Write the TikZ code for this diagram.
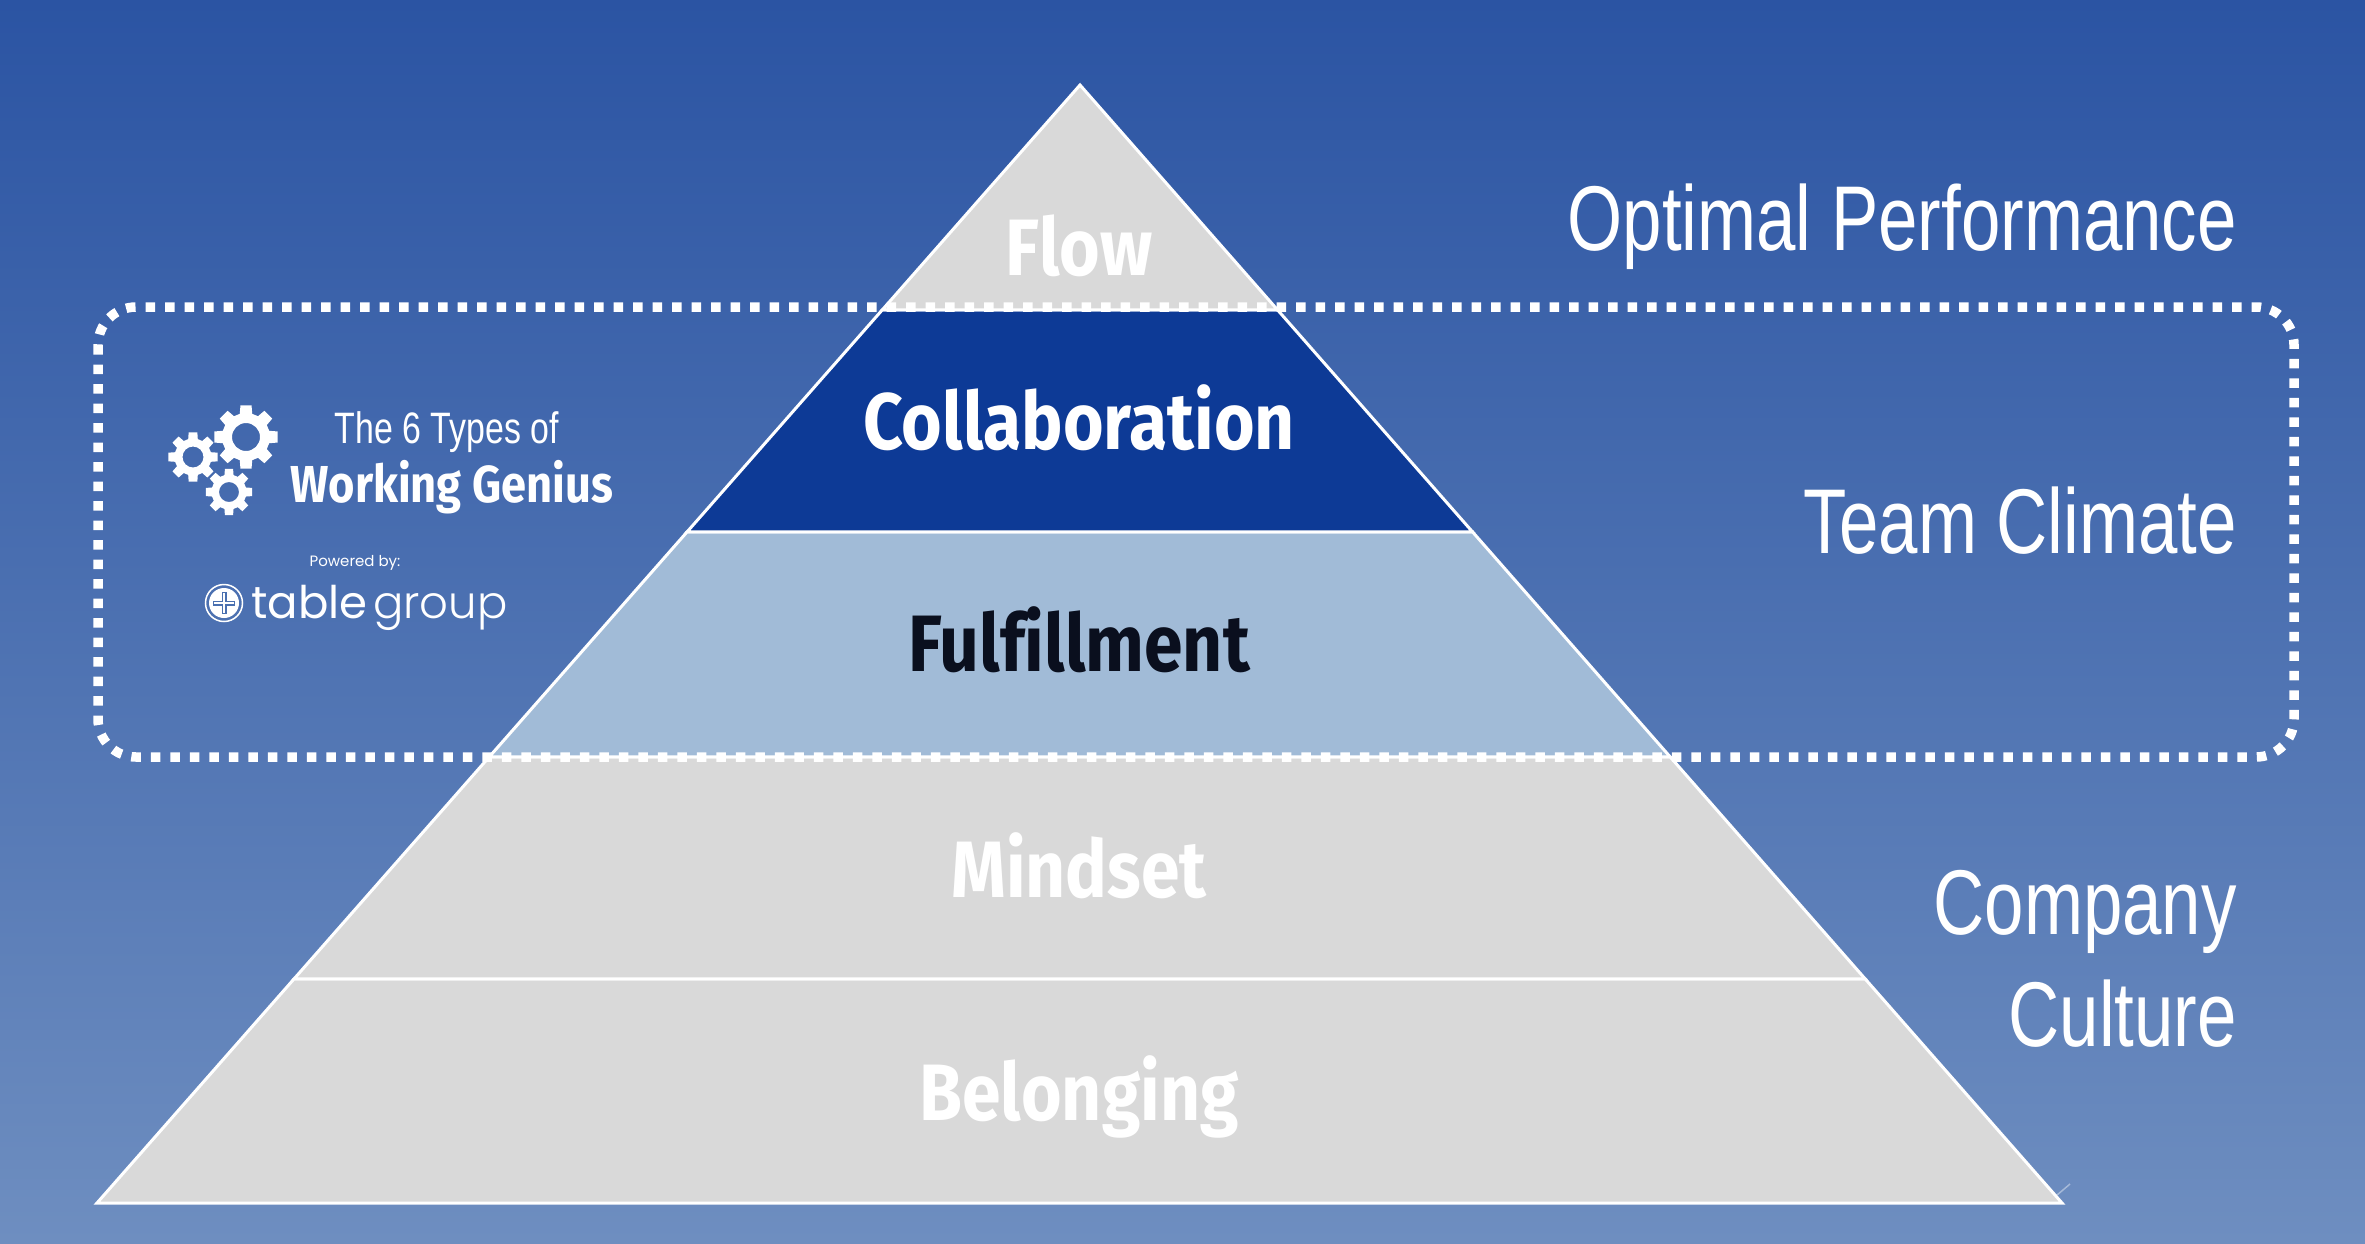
\documentclass[tikz,border=0pt]{standalone}
\usepackage{fontspec}
\usetikzlibrary{calc,positioning}
\setmainfont{Liberation Sans}
\newfontfamily\headfont[FakeStretch=0.87,Ligatures=NoCommon]{Fira Sans}
\newfontfamily\sidefont[FakeStretch=0.77]{Liberation Sans}
\newfontfamily\logofont{Poppins}
\newfontfamily\logolight{Poppins Light}
\definecolor{SkyTop}{HTML}{2B54A3}
\definecolor{SkyBottom}{HTML}{6E8EC0}
\definecolor{LogoBlue}{HTML}{4A70B0}
\definecolor{LayerGray}{HTML}{D9D9D9}
\definecolor{LayerNavy}{HTML}{0D3A96}
\definecolor{LayerPale}{HTML}{A1BBD7}
\definecolor{InkDark}{HTML}{0A0F1E}
\tikzset{
  layer/.style={draw=white,line width=3pt,line join=miter},
  layertext/.style={anchor=base,inner sep=0pt,white,font=\headfont\bfseries\fontsize{80}{90}\selectfont},
  sidetext/.style={anchor=base east,inner sep=0pt,white,font=\sidefont\fontsize{92}{100}\selectfont}
}
\newcommand{\gearicon}[4]{%
  \begin{scope}[shift={(#1)}]
    \fill[white,even odd rule] (-10:#2)
      \foreach \a in {0,45,...,315} {
        -- ({\a-10}:#2) -- ({\a+10}:#2) -- ({\a+15}:#3) -- ({\a+30}:#3)
      } -- cycle
      (0,0) circle[radius=#4];
  \end{scope}
}

\begin{document}
\begin{tikzpicture}[x=1pt,y=-1pt]
    \shade[top color=SkyTop,bottom color=SkyBottom] (0,0) rectangle (2365,1243);

    \coordinate (apex) at (1080,85);
    \coordinate (baseL) at (97,1203);
    \coordinate (baseR) at (2062,1203);
    % corners of the layers
    \coordinate (flowL) at ($(apex)!0.2012!(baseL)$);
    \coordinate (flowR) at ($(apex)!0.2012!(baseR)$);
    \coordinate (collabL) at ($(apex)!0.3998!(baseL)$);
    \coordinate (collabR) at ($(apex)!0.3998!(baseR)$);
    \coordinate (fulfilL) at ($(apex)!0.6010!(baseL)$);
    \coordinate (fulfilR) at ($(apex)!0.6010!(baseR)$);
    \coordinate (mindL) at ($(apex)!0.7996!(baseL)$);
    \coordinate (mindR) at ($(apex)!0.7996!(baseR)$);

    \draw[layer,fill=LayerGray] (baseL) -- (mindL) -- (mindR) -- (baseR) -- cycle;
    \draw[layer,fill=LayerGray] (mindL) -- (fulfilL) -- (fulfilR) -- (mindR) -- cycle;
    \draw[layer,fill=LayerPale] (fulfilL) -- (collabL) -- (collabR) -- (fulfilR) -- cycle;
    \draw[layer,fill=LayerNavy] (collabL) -- (flowL) -- (flowR) -- (collabR) -- cycle;
    \draw[layer,fill=LayerGray] (flowL) -- (apex) -- (flowR) -- cycle;

    \coordinate (tickA) at (2057,1195);
    \coordinate (tickB) at (2070,1184);
    \draw[white,opacity=0.4,line width=1.5pt] (tickA) -- (tickB);

    \draw[white,line width=9.5pt,rounded corners=38pt,dash pattern=on 9.5pt off 10pt]
      (98,307) rectangle (2294,757);

    \node[layertext] (flow) at (1079,275) {Flow};
    \node[layertext] (collab) at (1079,449) {Collaboration};
    \node[layertext,text=InkDark] (fulfil) at (1079,671) {Fulfillment};
    \node[layertext] (mind) at (1079,897) {Mindset};
    \node[layertext] (belong) at (1079,1120) {Belonging};

    \node[sidetext] (optimal) at (2237,250) {Optimal Performance};
    \node[sidetext] (climate) at (2237,553) {Team Climate};
    \node[sidetext] (company) at (2237,934) {Company};
    \node[sidetext] (culture) at (2237,1046) {Culture};

    % logo at the left
    \gearicon{246,437}{32}{24}{14}
    \gearicon{193,457}{25}{18.5}{10.5}
    \gearicon{229,492}{23.5}{17.5}{10}
    \node[anchor=base,inner sep=0pt,white,font=\sidefont\fontsize{44}{48}\selectfont] (types) at (447,443) {The 6 Types of};
    \node[anchor=base,inner sep=0pt,white,font=\headfont\bfseries\fontsize{52}{60}\selectfont] (genius) at (452,502) {Working Genius};
    \node[anchor=base,inner sep=0pt,white,font=\logofont\fontsize{15}{18}\selectfont] (powered) at (355,566) {Powered by:};
    \node[anchor=base west,inner sep=0pt,white,font=\logofont\fontsize{45}{50}\selectfont] (tablewd) at (251,618) {table};
    \node[anchor=base west,inner sep=0pt,white,font=\logolight\fontsize{45}{50}\selectfont] (groupwd) at (373,618) {group};
    \coordinate (plus) at (224,603);
    \draw[white,line width=1.5pt] (plus) circle[radius=18.5];
    \fill[white] (plus) circle[radius=15];
    \draw[LogoBlue,line width=5pt] ($(plus)+(-11,0)$) -- ($(plus)+(11,0)$) ($(plus)+(0,-11)$) -- ($(plus)+(0,11)$);
    \draw[white,line width=1.5pt] ($(plus)+(-10,0)$) -- ($(plus)+(10,0)$) ($(plus)+(0,-10)$) -- ($(plus)+(0,10)$);
  \end{tikzpicture}
\end{document}
